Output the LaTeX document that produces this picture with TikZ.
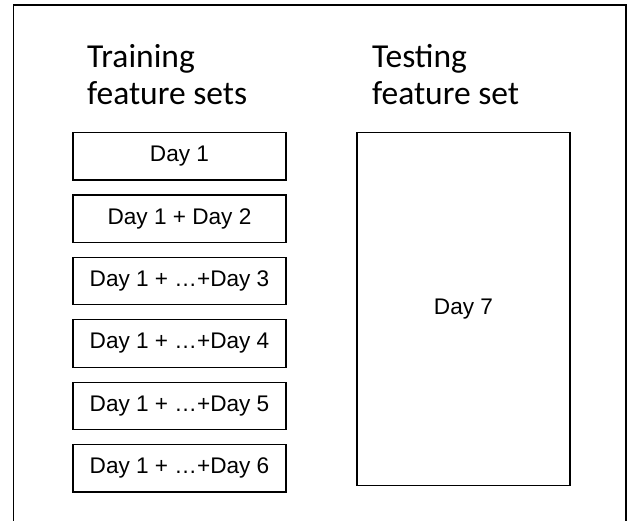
\documentclass[tikz,border=0pt]{standalone}
\usepackage{fontspec}
\setmainfont{Liberation Sans}
\newfontfamily\titlefont{Carlito}
\usetikzlibrary{positioning}

\begin{document}
\begin{tikzpicture}[
  x=1pt, y=-1pt,
  node distance=13.7pt,
  daybox/.style={draw, line width=1.2pt, minimum width=213pt, minimum height=47.5pt, inner sep=0pt, font=\fontsize{22.6}{25}\selectfont},
  heading/.style={anchor=north west, inner sep=0pt, align=left, font=\titlefont\fontsize{33.5}{37}\selectfont}
]
  \useasboundingbox (0,0) rectangle (630,521);
  % outer frame, open at the bottom
  \draw[line width=1.5pt] (13.5,521) -- (13.5,5) -- (626,5) -- (626,521);

  \node[heading] (trainhead) at (87,44.5) {Training\\feature sets};
  \node[heading] (testhead) at (372,44.5) {Testing\\feature set};

  % training sets
  \node[daybox, anchor=north] (d1) at (179.5,132) {Day 1};
  \node[daybox, below=of d1] (d2) {Day 1 + Day 2};
  \node[daybox, below=of d2] (d3) {Day 1 + …+Day 3};
  \node[daybox, below=of d3] (d4) {Day 1 + …+Day 4};
  \node[daybox, below=of d4] (d5) {Day 1 + …+Day 5};
  \node[daybox, below=of d5] (d6) {Day 1 + …+Day 6};

  % testing set
  \node[daybox, minimum width=213pt, minimum height=353pt, anchor=north] (d7) at (463.5,132) {Day 7};
\end{tikzpicture}
\end{document}
